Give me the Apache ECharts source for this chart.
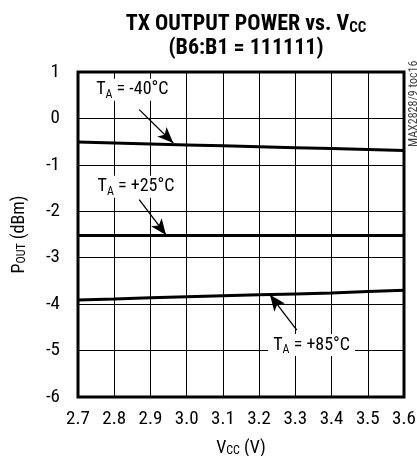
<!DOCTYPE html>
<html><head><meta charset="utf-8">
<script src="https://cdn.jsdelivr.net/npm/echarts@6/dist/echarts.min.js"></script>
<style>html,body{margin:0;padding:0;background:#fff}#c{width:417px;height:456px}</style>
</head><body><div id="c"></div>
<script>
var vcc = [2.7, 2.8, 2.9, 3.0, 3.1, 3.2, 3.3, 3.4, 3.5, 3.6];
var pMinus40 = [-0.51, -0.53, -0.55, -0.57, -0.59, -0.61, -0.63, -0.65, -0.67, -0.69];
var pPlus25 = [-2.52, -2.52, -2.52, -2.52, -2.52, -2.52, -2.52, -2.52, -2.52, -2.52];
var pPlus85 = [-3.91, -3.89, -3.86, -3.84, -3.82, -3.80, -3.78, -3.76, -3.73, -3.70];
var seriesNames = ['-40°C', '+25°C', '+85°C'];
var yTicks = [1, 0, -1, -2, -3, -4, -5, -6];

// annotation anchors in data units: label position, arrow tail, arrow head
var notes = [
  {text: 'T{s|A} = -40°C', at: [2.85, 0.62], from: [2.869, 0.19], to: [2.963, -0.53]},
  {text: 'T{s|A} = +25°C', at: [2.86, -1.47], from: [2.869, -1.75], to: [2.943, -2.51]},
  {text: 'T{s|A} = +85°C', at: [3.345, -4.88], from: [3.304, -4.56], to: [3.23, -3.80]}
];

var FONT = '"Roboto Condensed", "Open Sans Condensed", sans-serif';
function pairs(ys){ return vcc.map(function(x,i){ return [x, ys[i]]; }); }
var data = [pMinus40, pPlus25, pPlus85];

var series = data.map(function(ys, i){
  return {
    name: seriesNames[i], type: 'line', data: pairs(ys), symbol: 'none',
    lineStyle: {color: '#000', width: 3}, z: 3, animation: false
  };
});
series.push({
  type: 'line', data: [], animation: false,
  markPoint: {
    symbol: 'rect', symbolSize: 0, animation: false,
    label: {
      show: true, position: 'inside', color: '#000', fontFamily: FONT, fontSize: 18,
      backgroundColor: '#fff', padding: [0, 5, 0, 5], lineHeight: 22,
      formatter: function(p){ return p.name; },
      rich: {s: {fontSize: 12, fontFamily: FONT, verticalAlign: 'bottom', lineHeight: 22, padding: [6,0,0,0]}}
    },
    data: notes.map(function(n){ return {name: n.text, coord: n.at}; })
  },
  markLine: {
    symbol: ['none', 'arrow'], symbolSize: [10, 16], silent: true, animation: false,
    lineStyle: {color: '#000', width: 1.3, type: 'solid'},
    label: {show: false},
    data: notes.map(function(n){ return [{coord: n.from}, {coord: n.to}]; })
  },
  z: 5
});

var chart = echarts.init(document.getElementById('c'));
chart.setOption({
  animation: false,
  title: {
    text: 'TX OUTPUT POWER vs. V{s|CC}\n(B6:B1 = 111111)',
    left: 241, top: 7, textAlign: 'center',
    textStyle: {fontFamily: FONT, fontWeight: 'bold', fontSize: 22, color: '#000', lineHeight: 24,
      rich: {s: {fontFamily: FONT, fontWeight: 'bold', fontSize: 15, verticalAlign: 'bottom', lineHeight: 24, padding: [5,0,0,0]}}}
  },
  grid: {left: 78, right: 13, top: 72, bottom: 59, show: true, borderColor: '#000', borderWidth: 3,
    backgroundColor: 'transparent', containLabel: false, outerBoundsMode: 'none'},
  xAxis: {
    type: 'value', min: 2.7, max: 3.6, interval: 0.1,
    name: 'V{s|CC} (V)', nameLocation: 'middle', nameGap: 42,
    nameTextStyle: {fontFamily: FONT, fontSize: 18, color: '#000', rich: {s: {fontFamily: FONT, fontSize: 12, verticalAlign: 'bottom', padding: [6,0,0,0]}}},
    axisLine: {show: false}, axisTick: {show: false},
    axisLabel: {fontFamily: FONT, fontSize: 19, color: '#000', margin: 13, formatter: function(v){ return v.toFixed(1); }},
    splitLine: {show: true, lineStyle: {color: '#000', width: 1}}
  },
  yAxis: {
    type: 'value', min: -6, max: 1, interval: 1,
    name: 'P{s|OUT} (dBm)', nameLocation: 'middle', nameGap: 50, nameRotate: 90,
    nameTextStyle: {fontFamily: FONT, fontSize: 18, color: '#000', rich: {s: {fontFamily: FONT, fontSize: 12, verticalAlign: 'bottom', padding: [6,0,0,0]}}},
    axisLine: {show: false}, axisTick: {show: false},
    axisLabel: {fontFamily: FONT, fontSize: 19, color: '#000', margin: 18,
      formatter: function(v){ return yTicks.indexOf(v) >= 0 ? String(v) : ''; }},
    splitLine: {show: true, lineStyle: {color: '#000', width: 1}}
  },
  graphic: [{
    type: 'text', x: 408, y: 147, rotation: Math.PI / 2,
    style: {text: 'MAX2828/9 toc16', fontFamily: FONT, fontSize: 12, fill: '#444'}
  }],
  series: series
});
</script></body></html>
